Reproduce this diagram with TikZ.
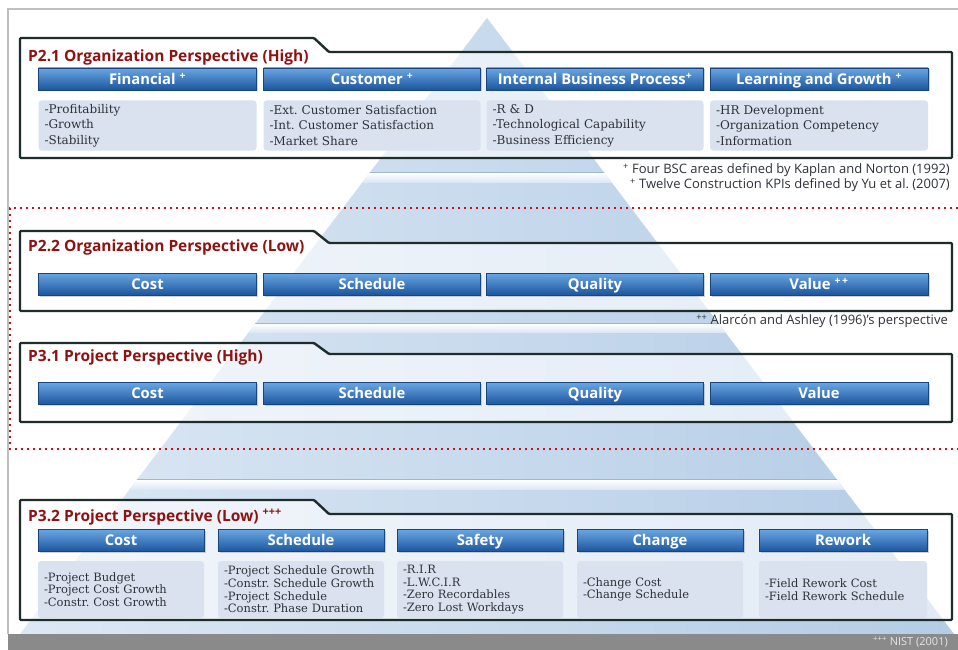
\documentclass[tikz,border=0pt]{standalone}
\usepackage{fontspec}
\setmainfont{Open Sans}
\newfontfamily\listfont{DejaVu Serif}
\usepackage{xcolor}
\usepackage{tikz}
\usetikzlibrary{positioning,shadows}
\frenchspacing

\definecolor{titlered}{HTML}{8E1212}
\definecolor{framedark}{HTML}{1E2C2C}
\definecolor{bartop}{HTML}{6AA6E2}
\definecolor{barmid}{HTML}{3D80CB}
\definecolor{barbot}{HTML}{1B559E}
\definecolor{baredge}{HTML}{17457F}
\definecolor{boxfill}{HTML}{D9E2EE}
\definecolor{listgray}{HTML}{2E3238}
\definecolor{pyrleft}{HTML}{DCE8F4}
\definecolor{pyrright}{HTML}{B4CCE6}
\definecolor{pyredge}{HTML}{9FB6CF}
\definecolor{dotred}{HTML}{C4121E}
\definecolor{bandgray}{HTML}{8A8A8A}

\begin{document}
\begin{tikzpicture}[
    x=1pt, y=-1pt,
    frame/.style={draw=framedark, line width=2.4pt, fill=white, fill opacity=0.62, rounded corners=1pt},
    title/.style={anchor=west, inner sep=0pt, text=titlered, font=\bfseries\fontsize{15.5}{17}\selectfont},
    bar/.style={rectangle, draw=baredge, line width=0.6pt, top color=bartop, middle color=barmid, bottom color=barbot, text=white, minimum height=22pt, inner sep=0pt, text height=12.5pt, text depth=2pt, font=\bfseries\fontsize{14.8}{16}\selectfont, drop shadow={shadow xshift=1.5pt, shadow yshift=-1.5pt, opacity=0.35}},
    list/.style={rectangle, rounded corners=3pt, fill=boxfill, align=left, inner xsep=6pt, inner ysep=0pt, text=listgray, font=\listfont\fontsize{12}{15.5}\selectfont},
    note/.style={anchor=east, inner sep=0pt, text=listgray, font=\fontsize{13}{14}\selectfont}
]
\useasboundingbox (0,0) rectangle (958,650);
\fill[white] (0,0) rectangle (958,650);

% Pyramid behind everything
\shade[left color=pyrleft, right color=pyrright] (487,18) -- (954,634) -- (20,634) -- cycle;
\begin{scope}
  \clip (487,18) -- (954,634) -- (20,634) -- cycle;
  \draw[pyredge, line width=1pt] (0,172) -- (958,172);
  \shade[top color=white, bottom color=pyrleft] (0,173) rectangle (958,182);
  \draw[pyredge, line width=1pt] (0,323) -- (958,323);
  \shade[top color=white, bottom color=pyrleft] (0,324) rectangle (958,332);
  \draw[pyredge, line width=1pt] (0,479) -- (958,479);
  \shade[top color=white, bottom color=pyrleft] (0,480) rectangle (958,489);
\end{scope}

% Dotted border round the middle layers
\draw[dotred, line width=2pt, dash pattern=on 2pt off 4pt] (958,208) -- (10,208) -- (10,449) -- (958,449);

% Frames
\draw[frame] (20,38) -- (314,38) -- (329,52) -- (952,52) -- (952,158) -- (20,158) -- cycle;
\draw[frame] (20,231) -- (314,231) -- (329,243) -- (952,243) -- (952,311) -- (20,311) -- cycle;
\draw[frame] (20,343) -- (314,343) -- (329,354) -- (952,354) -- (952,422) -- (20,422) -- cycle;
\draw[frame] (20,500) -- (314,500) -- (329,514) -- (952,514) -- (952,620) -- (20,620) -- cycle;

% Titles
\node[title] (t21) at (28,57) {P2.1 Organization Perspective (High)};
\node[title] (t22) at (28,247) {P2.2 Organization Perspective (Low)};
\node[title] (t31) at (28,357) {P3.1 Project Perspective (High)};
\node[title] (t32) at (28,517) {P3.2 Project Perspective (Low) \textsuperscript{+++}};

% P2.1 areas
\node[bar, minimum width=218pt] (fin) at (147.5,79) {Financial \textsuperscript{+}};
\node[bar, minimum width=217pt] (cus) at (372,79) {Customer \textsuperscript{+}};
\node[bar, minimum width=217pt] (ibp) at (595,79) {Internal Business Process\textsuperscript{+}};
\node[bar, minimum width=218pt] (lag) at (819,79) {Learning and Growth \textsuperscript{+}};

\node[list, below=10pt of fin, text width=206pt, minimum height=50pt] (finl) {-Profitability\\-Growth\\-Stability};
\node[list, below=10pt of cus, text width=205pt, minimum height=50pt] (cusl) {-Ext. Customer Satisfaction\\-Int. Customer Satisfaction\\-Market Share};
\node[list, below=10pt of ibp, text width=205pt, minimum height=50pt] (ibpl) {-R \& D\\-Technological Capability\\-Business Efficiency};
\node[list, below=10pt of lag, text width=206pt, minimum height=50pt] (lagl) {-HR Development\\-Organization Competency\\-Information};

\node[note] (n1) at (950,170) {\textsuperscript{+} Four BSC areas defined by Kaplan and Norton (1992)};
\node[note] (n2) at (950,185) {\textsuperscript{+} Twelve Construction KPIs defined by Yu et al. (2007)};

% P2.2 areas
\node[bar, minimum width=218pt] (cost22) at (147.5,284) {Cost};
\node[bar, minimum width=217pt] (sched22) at (372,284) {Schedule};
\node[bar, minimum width=217pt] (qual22) at (595,284) {Quality};
\node[bar, minimum width=218pt] (val22) at (819,284) {Value \textsuperscript{+\,+}};
\node[note] (n3) at (948,321) {\textsuperscript{++} Alarcón and Ashley (1996)'s perspective};

% P3.1 areas
\node[bar, minimum width=218pt] (cost31) at (147.5,393.5) {Cost};
\node[bar, minimum width=217pt] (sched31) at (372,393.5) {Schedule};
\node[bar, minimum width=217pt] (qual31) at (595,393.5) {Quality};
\node[bar, minimum width=218pt] (val31) at (819,393.5) {Value};

% P3.2 areas
\node[bar, minimum width=166pt] (cost32) at (121,540.5) {Cost};
\node[bar, minimum width=166pt] (sched32) at (301,540.5) {Schedule};
\node[bar, minimum width=166pt] (safe32) at (480,540.5) {Safety};
\node[bar, minimum width=166pt] (chg32) at (660,540.5) {Change};
\node[bar, minimum width=168pt] (rew32) at (843,540.5) {Rework};

\node[list, below=9pt of cost32, text width=154pt, minimum height=57pt, font=\listfont\fontsize{11.5}{12.6}\selectfont] (costl) {-Project Budget\\-Project Cost Growth\\-Constr. Cost Growth};
\node[list, below=9pt of sched32, text width=154pt, minimum height=57pt, font=\listfont\fontsize{11.5}{12.6}\selectfont] (schedl) {-Project Schedule Growth\\-Constr. Schedule Growth\\-Project Schedule\\-Constr. Phase Duration};
\node[list, below=9pt of safe32, text width=154pt, minimum height=57pt, font=\listfont\fontsize{11.5}{12.6}\selectfont] (safel) {-R.I.R\\-L.W.C.I.R\\-Zero Recordables\\-Zero Lost Workdays};
\node[list, below=9pt of chg32, text width=154pt, minimum height=57pt, font=\listfont\fontsize{11.5}{12.6}\selectfont] (chgl) {-Change Cost\\-Change Schedule};
\node[list, below=9pt of rew32, text width=156pt, minimum height=57pt, font=\listfont\fontsize{11.5}{12.6}\selectfont] (rewl) {-Field Rework Cost\\-Field Rework Schedule};

% Bottom band and outer lines
\fill[bandgray] (8,634) rectangle (958,650);
\node[note, text=white!90!black, font=\fontsize{11}{12}\selectfont] (n4) at (948,642) {\textsuperscript{+++} NIST (2001)};
\draw[black!25, line width=1.2pt] (8,634) -- (8,9) -- (958,9);

\end{tikzpicture}
\end{document}
